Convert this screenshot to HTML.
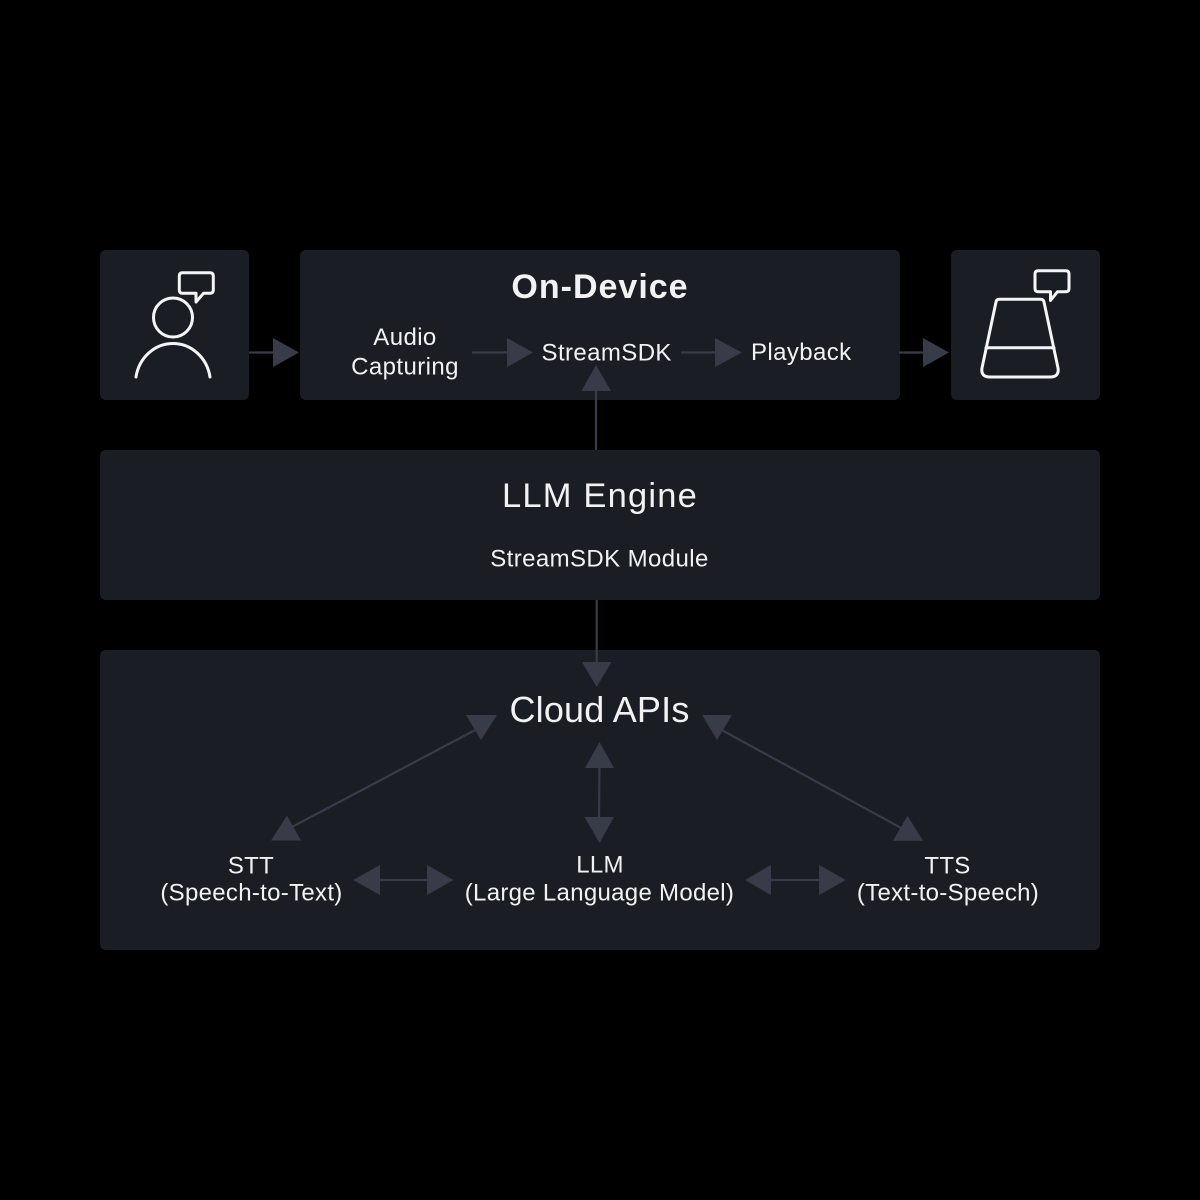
<!DOCTYPE html>
<html>
<head>
<meta charset="utf-8">
<style>
  html, body { margin:0; padding:0; background:#000; }
  body { width:1200px; height:1200px; overflow:hidden; }
  svg { display:block; }
  text { font-family: "Liberation Sans", "DejaVu Sans", sans-serif; fill:#f2f2f2; }
</style>
</head>
<body>
<svg width="1200" height="1200" viewBox="0 0 1200 1200" xmlns="http://www.w3.org/2000/svg">
  <rect x="0" y="0" width="1200" height="1200" fill="#000"/>

  <!-- Boxes -->
  <g fill="#1b1d24">
    <rect x="100" y="250" width="149" height="150" rx="6"/>
    <rect x="300" y="250" width="600" height="150" rx="6"/>
    <rect x="951" y="250" width="149" height="150" rx="6"/>
    <rect x="100" y="450" width="1000" height="150" rx="6"/>
    <rect x="100" y="650" width="1000" height="300" rx="6"/>
  </g>

  <!-- Connectors -->
  <g stroke="#383b48" stroke-width="2.2" fill="none">
    <line x1="249" y1="352.5" x2="274" y2="352.5"/>
    <line x1="899" y1="352.5" x2="924" y2="352.5"/>
    <line x1="472" y1="352.5" x2="508" y2="352.5"/>
    <line x1="681" y1="352.5" x2="716" y2="352.5"/>
    <line x1="596" y1="450" x2="596" y2="390"/>
    <line x1="596.7" y1="600" x2="596.7" y2="663"/>
    <line x1="599.5" y1="767" x2="599" y2="818"/>
    <line x1="379" y1="880" x2="428" y2="880"/>
    <line x1="770" y1="880" x2="820" y2="880"/>
    <line x1="290" y1="828" x2="479" y2="728"/>
    <line x1="718" y1="728" x2="903" y2="829"/>
  </g>
  <g fill="#383b48">
    <polygon points="273,338 273,367 299,352.5"/>
    <polygon points="923,338 923,367 949,352.5"/>
    <polygon points="507,338 507,367 533,352.5"/>
    <polygon points="715,338 715,367 742,352.5"/>
    <polygon points="581.5,391 611,391 596,365"/>
    <polygon points="582,662 611.5,662 596.7,687"/>
    <polygon points="585,768 614,768 599.5,742"/>
    <polygon points="584.5,817 614,817 599.5,843"/>
    <polygon points="380,865 380,895 353,880"/>
    <polygon points="427,865 427,895 453.5,880"/>
    <polygon points="771,865 771,895 745,880"/>
    <polygon points="819,865 819,895 846,880"/>
    <polygon points="271,840.5 301,840.5 287,815.5"/>
    <polygon points="466,715 497,715 481,740"/>
    <polygon points="702,715 732,715 717,740"/>
    <polygon points="893,840.7 923,840.7 907.5,815.7"/>
  </g>

  <!-- User icon -->
  <g stroke="#f5f5f5" stroke-width="3" fill="none" stroke-linejoin="round" stroke-linecap="round">
    <circle cx="173" cy="317.5" r="19.5"/>
    <path d="M136 377 A37.5 40 0 0 1 210 377"/>
    <path d="M196 293.3 L182.5 293.3 Q179.3 293.3 179.3 290 L179.3 276 Q179.3 272.7 182.5 272.7 L210 272.7 Q213.3 272.7 213.3 276 L213.3 290 Q213.3 293.3 210 293.3 L203.5 293.3 L196 302 Z"/>
  </g>

  <!-- Device (speaker) icon -->
  <g stroke="#f5f5f5" stroke-width="3" fill="none" stroke-linejoin="round" stroke-linecap="round">
    <path d="M999 299.3 L1040.5 299.3 Q1043.5 299.3 1044 302 L1058 368 Q1059.5 377 1050 377 L990 377 Q980.5 377 982 368 L996 302 Q996.5 299.3 999 299.3 Z"/>
    <line x1="986" y1="347.7" x2="1054" y2="347.7"/>
    <path d="M1050.5 291.7 L1038.2 291.7 Q1035 291.7 1035 288.5 L1035 274 Q1035 270.7 1038.2 270.7 L1065.8 270.7 Q1069 270.7 1069 274 L1069 288.5 Q1069 291.7 1065.8 291.7 L1057.5 291.7 L1050.5 300.5 Z"/>
  </g>

  <!-- Texts -->
  <text x="600" y="298" text-anchor="middle" font-size="34" font-weight="bold" letter-spacing="1">On-Device</text>
  <text x="405" y="345" text-anchor="middle" font-size="24" letter-spacing="0.4">Audio</text>
  <text x="405" y="374.3" text-anchor="middle" font-size="24" letter-spacing="0.4">Capturing</text>
  <text x="606.7" y="360.5" text-anchor="middle" font-size="24" letter-spacing="0.4">StreamSDK</text>
  <text x="801.3" y="360" text-anchor="middle" font-size="24" letter-spacing="0.4">Playback</text>

  <text x="600" y="507" text-anchor="middle" font-size="34.5" letter-spacing="1.2">LLM Engine</text>
  <text x="599.5" y="566.7" text-anchor="middle" font-size="24" letter-spacing="0.4">StreamSDK Module</text>

  <text x="599.5" y="722" text-anchor="middle" font-size="36" letter-spacing="0.2">Cloud APIs</text>

  <text x="251" y="873.3" text-anchor="middle" font-size="24" letter-spacing="0.3">STT</text>
  <text x="251.5" y="900.7" text-anchor="middle" font-size="24" letter-spacing="0.3">(Speech-to-Text)</text>
  <text x="600" y="872.5" text-anchor="middle" font-size="24" letter-spacing="0.3">LLM</text>
  <text x="599.5" y="900.7" text-anchor="middle" font-size="24" letter-spacing="0.3">(Large Language Model)</text>
  <text x="947.5" y="873.3" text-anchor="middle" font-size="24" letter-spacing="0.3">TTS</text>
  <text x="948" y="900.7" text-anchor="middle" font-size="24" letter-spacing="0.3">(Text-to-Speech)</text>
</svg>
</body>
</html>
